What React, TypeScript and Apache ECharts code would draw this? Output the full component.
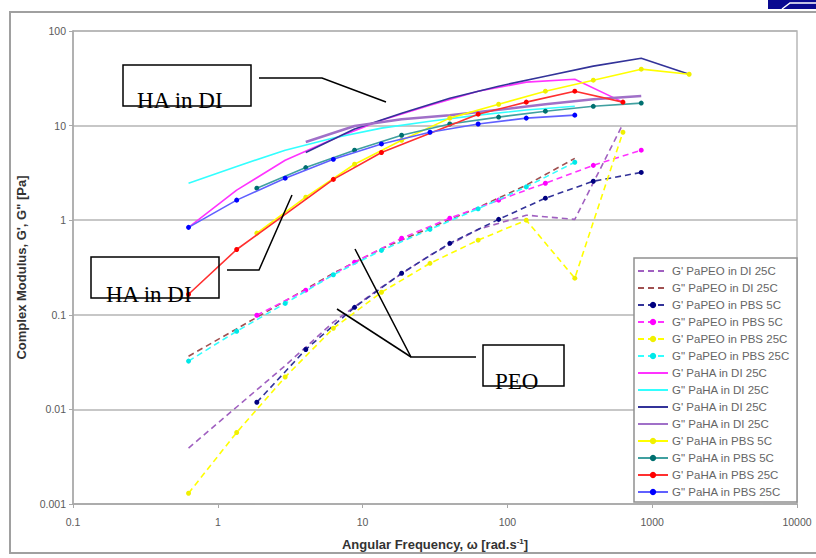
import React, { useEffect, useRef } from "react";
import * as echarts from "echarts";

// Frequencies (rad/s) of the two measurement sets
const freqA = [0.628, 1.35, 2.92, 6.28, 13.5, 29.2, 62.8, 135, 292, 628];
const freqB = [1.86, 4.05, 8.8, 18.6, 40, 87, 183, 392, 840, 1800];

// PEO series
const gpPeoDi25 = [0.0039, 0.0106, 0.029, 0.0835, 0.196, 0.427, 0.8, 1.13, 1.02, 10.4];
const gppPeoDi25 = [0.0365, 0.071, 0.14, 0.275, 0.5, 0.83, 1.36, 2.35, 4.5, null];
const gpPeoPbs5 = [0.0119, 0.043, 0.12, 0.275, 0.57, 1.02, 1.71, 2.58, 3.2, null];
const gppPeoPbs5 = [0.099, 0.182, 0.36, 0.645, 1.05, 1.63, 2.46, 3.8, 5.5, null];
const gpPeoPbs25 = [0.0013, 0.0057, 0.022, 0.072, 0.173, 0.35, 0.615, 1.0, 0.244, 8.5];
const gppPeoPbs25 = [0.0324, 0.067, 0.132, 0.265, 0.48, 0.8, 1.32, 2.25, 4.1, null];
// HA series
const gpHaDi25a = [0.84, 2.08, 4.3, 7.2, 11.4, 16.4, 23.1, 28.8, 30.9, 17.7];
const gppHaDi25a = [2.46, 3.7, 5.5, 7.4, 9.4, 11.1, 12.9, 14.6, 16.0, null];
const gpHaDi25b = [null, 5.2, 9.2, 13.5, 19.5, 26.1, 33.3, 42.5, 51.5, 34.9];
const gppHaDi25b = [null, 6.7, 9.9, 11.7, 12.9, 14.7, 16.8, 19.0, 20.5, null];
const gpHaPbs5 = [0.73, 1.75, 3.9, 7.0, 12.0, 16.8, 23.1, 30.2, 39.5, 34.9];
const gppHaPbs5 = [2.18, 3.6, 5.5, 7.9, 10.4, 12.3, 14.2, 16.0, 17.3, null];
const gpHaPbs25 = [0.165, 0.49, null, 2.7, 5.2, null, 13.2, 17.7, 23.1, 17.7];
const gppHaPbs25 = [0.84, 1.63, 2.78, 4.4, 6.4, 8.5, 10.4, 12.0, 12.9, null];

const legendNames = [
  "G' PaPEO in DI 25C",
  'G" PaPEO in DI 25C',
  "G' PaPEO in PBS 5C",
  'G" PaPEO in PBS 5C',
  "G' PaPEO in PBS 25C",
  'G" PaPEO in PBS 25C',
  "G' PaHA in DI 25C",
  'G" PaHA in DI 25C',
  "G' PaHA in DI 25C ",
  'G" PaHA in DI 25C ',
  "G' PaHA in PBS 5C",
  'G" PaHA in PBS 5C',
  "G' PaHA in PBS 25C",
  'G" PaHA in PBS 25C',
];

const xTickLabels = ["0.1", "1", "10", "100", "1000", "10000"];
const yTickLabels = ["0.001", "0.01", "0.1", "1", "10", "100"];

type Spec = {
  freq: number[];
  vals: (number | null)[];
  color: string;
  marker?: string;
  dashed?: boolean;
  width?: number;
};

const specs: Spec[] = [
  { freq: freqA, vals: gpPeoDi25, color: "#a060c0", dashed: true },
  { freq: freqA, vals: gppPeoDi25, color: "#a05050", dashed: true },
  { freq: freqB, vals: gpPeoPbs5, color: "#333399", marker: "#000080", dashed: true },
  { freq: freqB, vals: gppPeoPbs5, color: "#ff33ff", marker: "#ff00ff", dashed: true },
  { freq: freqA, vals: gpPeoPbs25, color: "#ffff00", marker: "#f0f000", dashed: true },
  { freq: freqA, vals: gppPeoPbs25, color: "#33ffff", marker: "#00e8e8", dashed: true },
  { freq: freqA, vals: gpHaDi25a, color: "#ff33ff" },
  { freq: freqA, vals: gppHaDi25a, color: "#33ffff" },
  { freq: freqB, vals: gpHaDi25b, color: "#333399" },
  { freq: freqB, vals: gppHaDi25b, color: "#a070c8", width: 2.5 },
  { freq: freqB, vals: gpHaPbs5, color: "#ffff00", marker: "#f0f000" },
  { freq: freqB, vals: gppHaPbs5, color: "#40a0a0", marker: "#007070" },
  { freq: freqA, vals: gpHaPbs25, color: "#ff3030", marker: "#ff0000" },
  { freq: freqA, vals: gppHaPbs25, color: "#6060ff", marker: "#0000ff" },
];

function fmtTick(v: number, labels: string[]) {
  const e = Math.round(Math.log10(v));
  const match = labels.find((l) => Math.round(Math.log10(parseFloat(l))) === e);
  return match ?? String(v);
}

export default function App() {
  const ref = useRef<HTMLDivElement>(null);
  useEffect(() => {
    if (!ref.current) return;
    const chart = echarts.init(ref.current, undefined, { renderer: "svg" });
    const series = specs.map((s, i) => {
      const data: [number, number][] = [];
      s.vals.forEach((v, k) => {
        if (v !== null) data.push([s.freq[k], v]);
      });
      return {
        name: legendNames[i],
        type: "line",
        data,
        symbol: s.marker ? "circle" : "none",
        symbolSize: 5,
        showSymbol: !!s.marker,
        itemStyle: { color: s.marker ?? s.color, opacity: s.marker ? 1 : 0 },
        lineStyle: {
          color: s.color,
          width: s.width ?? 1.6,
          type: s.dashed ? [6, 4] : "solid",
        },
        z: 2 + i * 0.01,
      };
    });
    const axisFont = { fontFamily: "Liberation Sans", fontSize: 10.5, color: "#5a5a5a" };
    const titleFont = { fontFamily: "Liberation Sans", fontSize: 13, fontWeight: "bold", color: "#333" };
    chart.setOption({
      animation: false,
      backgroundColor: "#fff",
      grid: {
        left: 73,
        right: 19,
        top: 31,
        bottom: 54,
        show: true,
        borderColor: "#b8b8b8",
        borderWidth: 1.5,
        backgroundColor: "#fff",
      },
      xAxis: {
        type: "log",
        logBase: 10,
        min: 0.1,
        max: 10000,
        splitNumber: 5,
        axisLine: { show: true, lineStyle: { color: "#a8a8a8", width: 1.5 } },
        axisTick: { show: true, length: 4, lineStyle: { color: "#a8a8a8" } },
        splitLine: { show: false },
        axisLabel: { ...axisFont, margin: 12, formatter: (v: number) => fmtTick(v, xTickLabels) },
        name: "Angular Frequency, ω [rad.s{sup|-1}]",
        nameLocation: "middle",
        nameGap: 33,
        nameTextStyle: {
          ...titleFont,
          rich: {
            sup: { fontSize: 8, fontWeight: "bold", color: "#333", padding: [0, 0, 7, 0] },
          },
        },
      },
      yAxis: {
        type: "log",
        logBase: 10,
        min: 0.001,
        max: 100,
        splitNumber: 5,
        axisLine: { show: true, lineStyle: { color: "#a8a8a8", width: 1.5 } },
        axisTick: { show: true, length: 4, lineStyle: { color: "#a8a8a8" } },
        splitLine: { show: true, lineStyle: { color: "#b4b4b4", width: 1.5 } },
        axisLabel: { ...axisFont, margin: 7, formatter: (v: number) => fmtTick(v, yTickLabels) },
        name: 'Complex Modulus, G\', G" [Pa]',
        nameLocation: "middle",
        nameGap: 45,
        nameTextStyle: titleFont,
      },
      legend: {
        orient: "vertical",
        left: 634,
        top: 258,
        padding: [7, 4, 6, 3],
        itemGap: 5,
        itemWidth: 30,
        itemHeight: 8,
        data: legendNames,
        textStyle: {
          fontFamily: "Liberation Sans",
          fontSize: 11.5,
          lineHeight: 11,
          color: "#666",
          padding: [0, 0, 0, -1],
        },
        z: 10,
      },
      graphic: [
        {
          type: "rect",
          shape: { x: 10, y: 12, width: 820, height: 541 },
          style: { fill: "none", stroke: "#a0a0a0", lineWidth: 2 },
          z: 1,
        },
        {
          type: "rect",
          shape: { x: 768, y: 0, width: 48, height: 9 },
          style: { fill: "#0a0a90" },
        },
        {
          type: "polyline",
          shape: { points: [[782, 9], [790, 3], [816, 3]] },
          style: { stroke: "#ffffff", lineWidth: 1.5, fill: "none" },
        },
        {
          type: "rect",
          shape: { x: 634, y: 258, width: 163, height: 244 },
          style: { fill: "#fff", stroke: "#909090", lineWidth: 1.5 },
          z: 5,
        },
        // Annotation boxes
        {
          type: "rect",
          shape: { x: 123, y: 65, width: 128, height: 41 },
          style: { fill: "none", stroke: "#000", lineWidth: 1.5 },
          z: 20,
        },
        {
          type: "text",
          x: 137,
          y: 100,
          style: { text: "HA in DI", font: "23px 'Liberation Serif'", fill: "#000", verticalAlign: "middle" },
          z: 21,
        },
        {
          type: "rect",
          shape: { x: 91, y: 257, width: 128, height: 41 },
          style: { fill: "none", stroke: "#000", lineWidth: 1.5 },
          z: 20,
        },
        {
          type: "text",
          x: 106,
          y: 294,
          style: { text: "HA in DI", font: "23px 'Liberation Serif'", fill: "#000", verticalAlign: "middle" },
          z: 21,
        },
        {
          type: "rect",
          shape: { x: 483, y: 345, width: 81, height: 41 },
          style: { fill: "none", stroke: "#000", lineWidth: 1.5 },
          z: 20,
        },
        {
          type: "text",
          x: 495,
          y: 381,
          style: { text: "PEO", font: "23px 'Liberation Serif'", fill: "#000", verticalAlign: "middle" },
          z: 21,
        },
        // Leader lines
        {
          type: "polyline",
          shape: { points: [[259, 78], [322, 78], [386, 102]] },
          style: { stroke: "#000", lineWidth: 1.5, fill: "none" },
          z: 20,
        },
        {
          type: "polyline",
          shape: { points: [[227, 270], [259, 270], [292, 195]] },
          style: { stroke: "#000", lineWidth: 1.5, fill: "none" },
          z: 20,
        },
        {
          type: "polyline",
          shape: { points: [[476, 357], [411, 357], [355, 249]] },
          style: { stroke: "#000", lineWidth: 1.5, fill: "none" },
          z: 20,
        },
        {
          type: "line",
          shape: { x1: 411, y1: 357, x2: 337, y2: 309 },
          style: { stroke: "#000", lineWidth: 1.5 },
          z: 20,
        },
      ],
      series,
    });
    return () => chart.dispose();
  }, []);
  return (
    <div
      ref={ref}
      style={{ position: "fixed", left: 0, top: 0, width: 816, height: 558, background: "#fff" }}
    />
  );
}
